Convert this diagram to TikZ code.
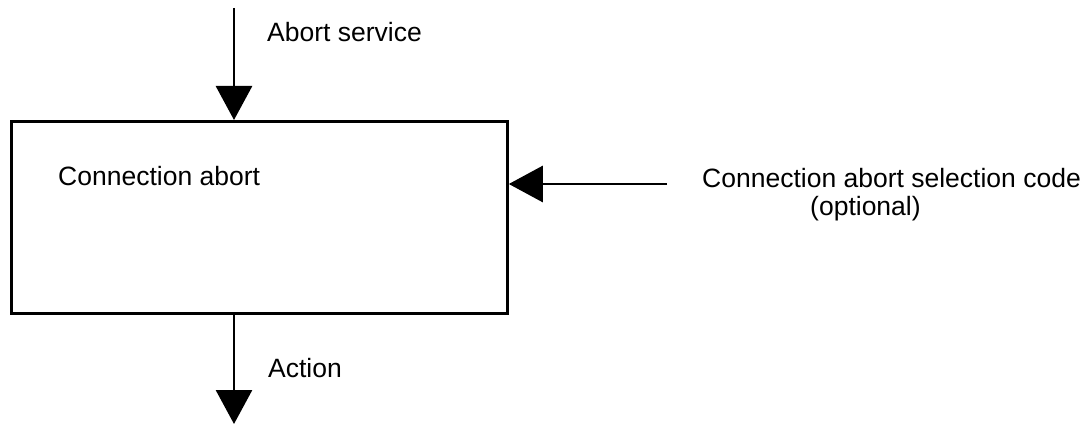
\documentclass[tikz,border=0pt]{standalone}
\usepackage{fontspec}
\setmainfont{Liberation Sans}
\usetikzlibrary{arrows.meta,positioning}

\begin{document}
\begin{tikzpicture}[x=1pt,y=-1pt,
  flow/.style={line width=2.8pt,-{Triangle[length=34pt,width=36pt]}},
  lbl/.style={anchor=base west,inner sep=0pt,font=\fontsize{26.5}{31}\selectfont}]
\useasboundingbox (0,0) rectangle (1084,425);
\node[draw,line width=2.8pt,minimum width=496pt,minimum height=192pt,
  anchor=north west,inner sep=0pt] (abort) at (10,120) {};
\coordinate (srv) at (234,8);
\coordinate (act) at (234,424);
\coordinate (sel) at (667,184);
\draw[flow] (srv) -- (srv |- abort.north);
\draw[flow] (abort.south -| act) -- (act);
\draw[flow] (sel) -- (sel -| abort.east);
\node[lbl] (abortlbl) at (58,185) {Connection abort};
\node[lbl] (srvlbl) at (267,42) {Abort service};
\node[lbl] (actlbl) at (268,377) {Action};
\node[lbl] (sellbl) at (702,187) {Connection abort selection code};
\node[lbl] (optlbl) at (810,215) {(optional)};
\end{tikzpicture}
\end{document}
